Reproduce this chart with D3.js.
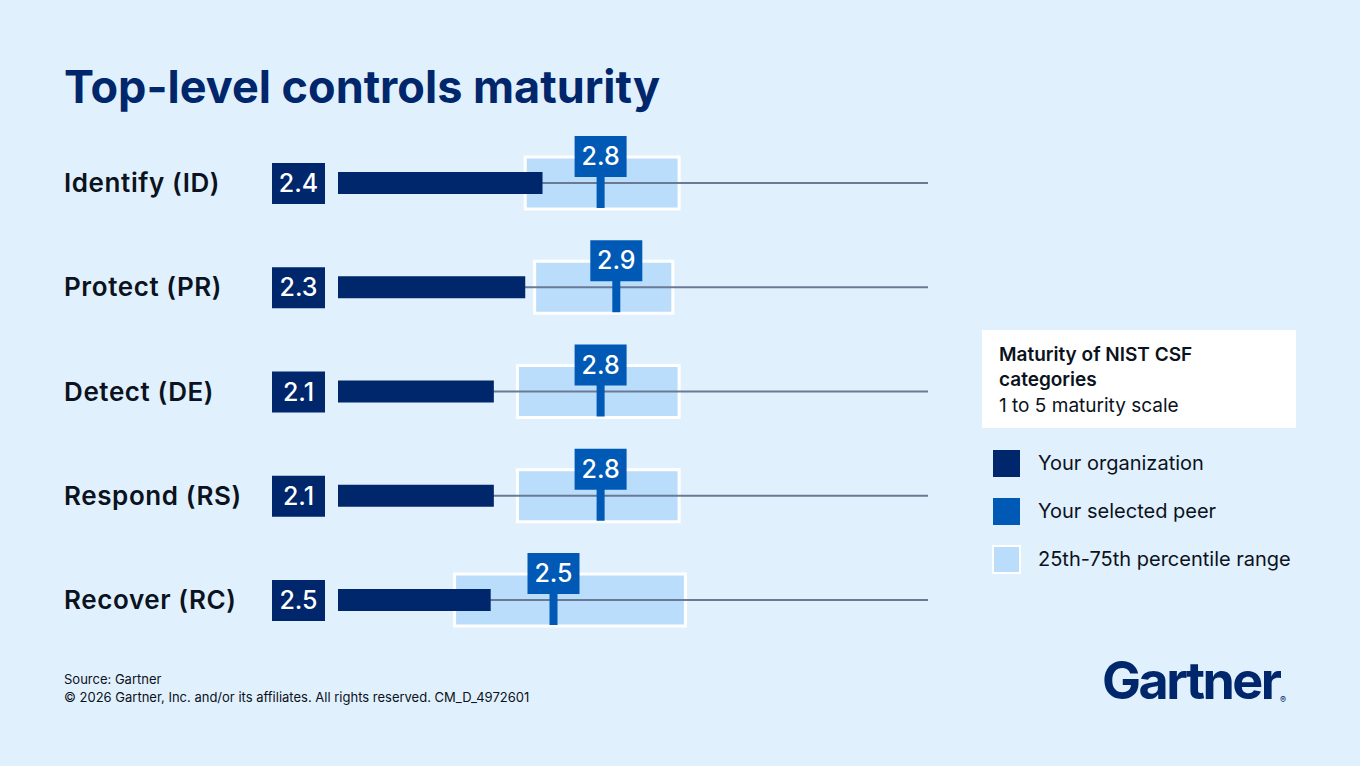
<!DOCTYPE html>
<html><head><meta charset="utf-8">
<script src="https://cdn.jsdelivr.net/npm/d3@7/dist/d3.min.js"></script>
<style>body{margin:0;background:#e1f0fd;}svg{display:block;font-family:Inter,"Noto Sans",sans-serif;}</style>
</head><body><svg id="chart" width="1360" height="766"></svg>
<script>
const categories = ["Identify (ID)", "Protect (PR)", "Detect (DE)", "Respond (RS)", "Recover (RC)"];
const orgValues = [2.4, 2.3, 2.1, 2.1, 2.5];
const orgBarEnds = [2.43, 2.32, 2.12, 2.12, 2.1];   // drawn bar ends
const peerValues = [2.8, 2.9, 2.8, 2.8, 2.5];
const p25 = [2.32, 2.38, 2.27, 2.27, 1.87];
const p75 = [3.30, 3.26, 3.30, 3.30, 3.34];

const navy = "#00266b", peer = "#0059b5", range = "#b9ddfb";
const svg = d3.select("#chart");

const x = d3.scaleLinear().domain([1, 5]).range([318, 946]);
const y = d3.scalePoint().domain(categories).range([183, 600]);
const barStart = 338, lineEnd = 928;

svg.append("text").attr("x", 64).attr("y", 103).text("Top-level controls maturity")
  .attr("font-size", 45).attr("font-weight", 700).attr("fill", "#00266b");

const row = svg.append("g").selectAll("g").data(categories).enter().append("g")
  .attr("transform", d => `translate(0,${y(d)})`);

row.append("text").attr("x", 64).attr("y", 9).text(d => d)
  .attr("font-size", 26).attr("font-weight", 600).attr("fill", "#0b1220").attr("letter-spacing", 0.6);

// percentile range box
row.append("rect")
  .attr("x", (d, i) => x(p25[i])).attr("width", (d, i) => x(p75[i]) - x(p25[i]))
  .attr("y", -26).attr("height", 52)
  .attr("fill", range).attr("stroke", "#fff").attr("stroke-width", 3);

// baseline
row.append("line").attr("x1", barStart).attr("x2", lineEnd).attr("y1", 0).attr("y2", 0)
  .attr("stroke", "#6a7a95").attr("stroke-width", 2);

// org bar
row.append("rect").attr("x", barStart).attr("y", -11).attr("height", 22)
  .attr("width", (d, i) => x(orgBarEnds[i]) - barStart).attr("fill", navy);

row.append("rect").attr("x", 272).attr("y", -20).attr("width", 53).attr("height", 41).attr("fill", navy);
row.append("text").attr("x", 298.5).attr("y", 9).attr("text-anchor", "middle")
  .text((d, i) => orgValues[i].toFixed(1)).attr("font-size", 25).attr("font-weight", 500).attr("fill", "#fff");

// peer marker
row.append("rect").attr("x", (d, i) => x(peerValues[i]) - 4).attr("y", -8).attr("width", 8).attr("height", 33).attr("fill", peer);
row.append("rect").attr("x", (d, i) => x(peerValues[i]) - 26).attr("y", -47).attr("width", 52).attr("height", 41).attr("fill", peer);
row.append("text").attr("x", (d, i) => x(peerValues[i])).attr("y", -18).attr("text-anchor", "middle")
  .text((d, i) => peerValues[i].toFixed(1)).attr("font-size", 25).attr("font-weight", 500).attr("fill", "#fff");

// legend
const lg = svg.append("g");
lg.append("rect").attr("x", 982).attr("y", 330).attr("width", 314).attr("height", 98).attr("fill", "#fff");
lg.append("text").attr("x", 999).attr("y", 361).text("Maturity of NIST CSF").attr("font-size", 19).attr("font-weight", 600).attr("fill", "#0b1220");
lg.append("text").attr("x", 999).attr("y", 386).text("categories").attr("font-size", 19).attr("font-weight", 600).attr("fill", "#0b1220");
lg.append("text").attr("x", 999).attr("y", 412).text("1 to 5 maturity scale").attr("font-size", 19).attr("fill", "#0b1220");
const items = [["Your organization", navy, "none"], ["Your selected peer", peer, "none"], ["25th-75th percentile range", range, "#fff"]];
items.forEach((it, i) => {
  lg.append("rect").attr("x", 993).attr("y", 450 + i * 48).attr("width", 27).attr("height", 27)
    .attr("fill", it[1]).attr("stroke", it[2]).attr("stroke-width", 2);
  lg.append("text").attr("x", 1038).attr("y", 470 + i * 48).text(it[0]).attr("font-size", 20).attr("fill", "#0b1220");
});

svg.append("text").attr("x", 64).attr("y", 684).text("Source: Gartner").attr("font-size", 13).attr("fill", "#0b1220");
svg.append("text").attr("x", 64).attr("y", 702).text("© 2026 Gartner, Inc. and/or its affiliates. All rights reserved. CM_D_4972601").attr("font-size", 13).attr("fill", "#0b1220");
svg.append("text").attr("x", 1102).attr("y", 699).text("Gartner").attr("font-size", 52).attr("font-weight", 700).attr("fill", "#00266b").attr("letter-spacing", -2.5);
svg.append("text").attr("x", 1280).attr("y", 703).text("®").attr("font-size", 9).attr("fill", "#00266b");
</script></body></html>
